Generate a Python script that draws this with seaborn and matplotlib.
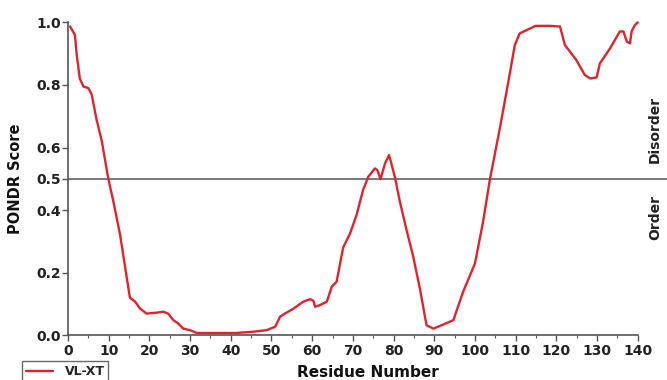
import matplotlib
matplotlib.use("Agg")
import matplotlib.pyplot as plt
import seaborn as sns
import pandas as pd
from matplotlib.lines import Line2D

residue = [0.5, 1.7, 2.1, 2.9, 3.8, 5.0, 5.8, 7.0, 8.3, 9.9, 11.1, 12.8, 14.0, 15.2, 16.5,
           17.7, 19.3, 21.8, 23.4, 24.6, 25.9, 27.1, 28.3, 30.0, 31.6, 41.4, 45.5, 48.8,
           50.9, 52.1, 53.3, 55.4, 57.8, 59.5, 60.3, 60.7, 61.9, 63.6, 64.8, 66.0, 67.6,
           69.3, 70.9, 72.5, 73.8, 75.4, 76.0, 76.8, 77.9, 78.9, 80.3, 81.6, 83.2, 84.8,
           86.5, 88.1, 89.8, 92.2, 94.7, 97.1, 100.0, 102.0, 103.7, 106.1, 108.2, 109.8,
           111.0, 112.8, 114.9, 118.4, 120.9, 122.1, 124.9, 127.0, 128.3, 129.9, 130.7,
           133.2, 135.6, 136.5, 137.3, 138.1, 138.5, 139.3, 140.0]
score = [0.987, 0.96, 0.90, 0.82, 0.795, 0.79, 0.77, 0.69, 0.62, 0.50, 0.43, 0.32, 0.22,
         0.12, 0.107, 0.085, 0.069, 0.072, 0.075, 0.069, 0.048, 0.037, 0.021, 0.016, 0.007,
         0.007, 0.011, 0.016, 0.027, 0.059, 0.069, 0.085, 0.107, 0.115, 0.11, 0.091, 0.096,
         0.107, 0.155, 0.171, 0.28, 0.325, 0.384, 0.464, 0.507, 0.533, 0.528, 0.499, 0.549,
         0.576, 0.507, 0.424, 0.336, 0.253, 0.147, 0.032, 0.021, 0.034, 0.048, 0.139, 0.229,
         0.363, 0.50, 0.66, 0.81, 0.928, 0.965, 0.976, 0.989, 0.989, 0.987, 0.928, 0.88,
         0.832, 0.821, 0.824, 0.869, 0.917, 0.971, 0.971, 0.939, 0.933, 0.971, 0.992, 1.0]
series_name = "VL-XT"
x_ticks = [0, 10, 20, 30, 40, 50, 60, 70, 80, 90, 100, 110, 120, 130, 140]
y_ticks = [0.0, 0.2, 0.4, 0.5, 0.6, 0.8, 1.0]
threshold = 0.5

df = pd.DataFrame({"Residue Number": residue, "PONDR Score": score, "series": series_name})

sns.set_theme(style="white")
plt.rcParams["font.family"] = ["DejaVu Sans"]
plt.rcParams["font.weight"] = "bold"

fig = plt.figure(figsize=(6.67, 3.8), dpi=100)
ax = fig.add_axes([0.102, 0.118, 0.898, 0.823])

sns.lineplot(data=df, x="Residue Number", y="PONDR Score", hue="series",
             palette=["#e3222b"], linewidth=1.7, ax=ax, sort=False, legend=False)
for ln in ax.lines:
    ln.set_clip_on(False)
    ln.set_solid_joinstyle("round")

ax.axhline(threshold, color="#555555", linewidth=1.1, zorder=1)

ax.set_xlim(0, 147.2)
ax.set_ylim(0, 1.0)
ax.set_xticks(x_ticks)
ax.set_xticks(range(0, 141, 5), minor=True)
ax.set_yticks(y_ticks)
ax.set_yticklabels([f"{v:.1f}" for v in y_ticks])
ax.spines["bottom"].set_bounds(0, 140)
for s in ["top", "right"]:
    ax.spines[s].set_visible(False)
for s in ["left", "bottom"]:
    ax.spines[s].set_color("#555555")
    ax.spines[s].set_linewidth(1.2)
ax.tick_params(axis="both", which="major", direction="out", length=4, width=1.0,
               color="#555555", labelsize=10, pad=1, bottom=True, left=True)
ax.tick_params(axis="x", which="major", pad=2.5)
ax.tick_params(axis="x", which="minor", direction="out", length=2.5, width=0.8,
               color="#555555", bottom=True)
for lab in ax.get_xticklabels() + ax.get_yticklabels():
    lab.set_fontweight("bold")
    lab.set_color("#222222")

ax.set_xlabel("Residue Number", fontsize=11, fontweight="bold", color="#111111", labelpad=5)
ax.set_ylabel("PONDR Score", fontsize=10.5, fontweight="bold", color="#111111")
ax.yaxis.set_label_coords(-0.075, 0.50)

fig.text(0.982, 0.66, "Disorder", rotation=90, ha="center", va="center",
         fontsize=10, fontweight="bold", color="#222222")
fig.text(0.982, 0.428, "Order", rotation=90, ha="center", va="center",
         fontsize=10, fontweight="bold", color="#222222")

handle = Line2D([0], [0], color="#e3222b", linewidth=1.7)
leg = fig.legend([handle], [series_name], loc="lower left", bbox_to_anchor=(0.033, -0.005),
                 frameon=True, fancybox=False, fontsize=9, handlelength=2.2,
                 borderpad=0.3, handletextpad=0.9, borderaxespad=0.0)
leg.get_frame().set_edgecolor("#444444")
leg.get_frame().set_linewidth(1.0)
for t in leg.get_texts():
    t.set_fontweight("bold")

fig.savefig("out.png", dpi=100)
